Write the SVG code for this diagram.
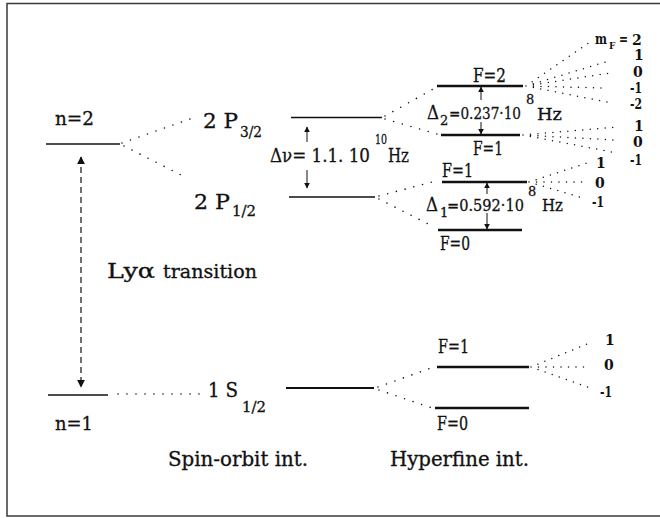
<svg xmlns="http://www.w3.org/2000/svg" width="660" height="518" viewBox="0 0 660 518">
<style>
text{font-family:"DejaVu Serif","Liberation Serif",serif;fill:#111;stroke:#111;stroke-width:0.3}
.l{font-size:20px}
.s{font-size:14px}
.f{font-size:18px}
.m{font-size:14px;font-weight:bold;stroke-width:0}
.lv{stroke:#111;fill:none}
.dot{stroke:#111;stroke-width:1.6;stroke-linecap:round;stroke-dasharray:0 9;fill:none}
.dot2{stroke:#111;stroke-width:1.5;stroke-linecap:round;stroke-dasharray:0 7.5;fill:none}
.arr{stroke:#111;stroke-width:1;fill:none}
</style>
<defs>
<marker id="ah" viewBox="0 0 10 10" refX="9" refY="5" markerWidth="6" markerHeight="6" orient="auto-start-reverse" markerUnits="userSpaceOnUse"><path d="M0,0 L10,5 L0,10 z" fill="#111"/></marker>
<marker id="ahb" viewBox="0 0 10 10" refX="9" refY="5" markerWidth="8" markerHeight="8" orient="auto-start-reverse" markerUnits="userSpaceOnUse"><path d="M0,0 L10,5 L0,10 z" fill="#111"/></marker>
</defs>
<rect x="7" y="3.5" width="660" height="512.5" fill="#fff" stroke="#3a3a3a" stroke-width="1.5"/>
<g id="n2">
<line class="lv" x1="46" y1="144" x2="120" y2="144" stroke-width="1.3"/>
<text class="f" x="55" y="125" textLength="39" lengthAdjust="spacingAndGlyphs">n=2</text>
</g>
<g id="n1">
<line class="lv" x1="48" y1="395" x2="108" y2="395" stroke-width="1.3"/>
<text class="f" x="55" y="430" textLength="38" lengthAdjust="spacingAndGlyphs">n=1</text>
</g>
<g id="p32">
<line class="lv" x1="291" y1="117.5" x2="382" y2="117.5" stroke-width="1.5"/>
<text class="l" x="203" y="128" textLength="35" lengthAdjust="spacingAndGlyphs">2 P</text>
<text class="s" x="240" y="137" textLength="22" lengthAdjust="spacingAndGlyphs">3/2</text>
</g>
<g id="p12">
<line class="lv" x1="289" y1="197" x2="375" y2="197" stroke-width="1.5"/>
<text class="l" x="194" y="209" textLength="36" lengthAdjust="spacingAndGlyphs">2 P</text>
<text class="s" x="232" y="216" textLength="24" lengthAdjust="spacingAndGlyphs">1/2</text>
</g>
<g id="s12">
<line class="lv" x1="286" y1="388" x2="374" y2="388" stroke-width="2"/>
<text class="l" x="208" y="397" textLength="30" lengthAdjust="spacingAndGlyphs">1 S</text>
<text class="s" x="242" y="412" textLength="24" lengthAdjust="spacingAndGlyphs">1/2</text>
</g>
<g id="dnu">
<text x="270" y="162" style="font-size:19px" textLength="100" lengthAdjust="spacingAndGlyphs">Δν= 1.1. 10</text>
<text x="375" y="144" style="font-size:13px" textLength="12" lengthAdjust="spacingAndGlyphs">10</text>
<text x="388" y="162" style="font-size:19px" textLength="21" lengthAdjust="spacingAndGlyphs">Hz</text>
<line class="arr" x1="307" y1="142" x2="307" y2="127" marker-end="url(#ah)"/>
<line class="arr" x1="307" y1="170" x2="307" y2="188" marker-end="url(#ah)"/>
</g>
<g id="p32F2">
<line class="lv" x1="437" y1="86" x2="523" y2="86" stroke-width="2.5"/>
<text class="f" x="473" y="82" textLength="33" lengthAdjust="spacingAndGlyphs">F=2</text>
</g>
<g id="p32F1">
<line class="lv" x1="441" y1="135" x2="520" y2="135" stroke-width="2.5"/>
<text class="f" x="473" y="155" textLength="30" lengthAdjust="spacingAndGlyphs">F=1</text>
</g>
<g id="d2">
<text x="427" y="119" style="font-size:18px" textLength="12" lengthAdjust="spacingAndGlyphs">Δ</text>
<text x="440" y="125" style="font-size:13px">2</text>
<text x="449" y="119" style="font-size:17px" textLength="72" lengthAdjust="spacingAndGlyphs">=0.237·10</text>
<text x="526" y="104" style="font-size:13px">8</text>
<text x="537" y="120" style="font-size:17px" textLength="25" lengthAdjust="spacingAndGlyphs">Hz</text>
<line class="arr" x1="481" y1="100" x2="481" y2="87" marker-end="url(#ah)"/>
<line class="arr" x1="481" y1="122" x2="481" y2="134" marker-end="url(#ah)"/>
</g>
<g id="p12F1">
<line class="lv" x1="442" y1="182" x2="527" y2="182" stroke-width="2.5"/>
<text class="f" x="442" y="177" textLength="31" lengthAdjust="spacingAndGlyphs">F=1</text>
</g>
<g id="p12F0">
<line class="lv" x1="438" y1="230" x2="522" y2="230" stroke-width="2.5"/>
<text class="f" x="440" y="250" textLength="30" lengthAdjust="spacingAndGlyphs">F=0</text>
</g>
<g id="d1">
<text x="426" y="211" style="font-size:18px" textLength="12" lengthAdjust="spacingAndGlyphs">Δ</text>
<text x="440" y="217" style="font-size:13px">1</text>
<text x="447" y="211" style="font-size:17px" textLength="77" lengthAdjust="spacingAndGlyphs">=0.592·10</text>
<text x="528" y="196" style="font-size:13px">8</text>
<text x="542" y="211" style="font-size:17px" textLength="21" lengthAdjust="spacingAndGlyphs">Hz</text>
<line class="arr" x1="487" y1="194" x2="487" y2="183" marker-end="url(#ah)"/>
<line class="arr" x1="487" y1="213" x2="487" y2="229" marker-end="url(#ah)"/>
</g>
<g id="s1F1">
<line class="lv" x1="437" y1="367" x2="529" y2="367" stroke-width="2.5"/>
<text class="f" x="438" y="353" textLength="31" lengthAdjust="spacingAndGlyphs">F=1</text>
</g>
<g id="s1F0">
<line class="lv" x1="435" y1="408" x2="529" y2="408" stroke-width="2.5"/>
<text class="f" x="437" y="430" textLength="31" lengthAdjust="spacingAndGlyphs">F=0</text>
</g>
<g id="mF">
<text class="m" x="595" y="44" textLength="12" lengthAdjust="spacingAndGlyphs">m</text>
<text class="m" x="609" y="49" style="font-size:9px">F</text>
<text class="m" x="619" y="44" textLength="9" lengthAdjust="spacingAndGlyphs">=</text>
<text class="m" x="632" y="45">2</text>
<text class="m" x="634" y="60">1</text>
<text class="m" x="633" y="77">0</text>
<text class="m" x="630" y="93" textLength="12" lengthAdjust="spacingAndGlyphs">-1</text>
<text class="m" x="630" y="109" textLength="12" lengthAdjust="spacingAndGlyphs">-2</text>
<text class="m" x="634" y="131">1</text>
<text class="m" x="633" y="147">0</text>
<text class="m" x="630" y="165" textLength="12" lengthAdjust="spacingAndGlyphs">-1</text>
<text class="m" x="596" y="168">1</text>
<text class="m" x="595" y="188">0</text>
<text class="m" x="592" y="207" textLength="12" lengthAdjust="spacingAndGlyphs">-1</text>
<text class="m" x="605" y="345">1</text>
<text class="m" x="604" y="370">0</text>
<text class="m" x="600" y="397" textLength="12" lengthAdjust="spacingAndGlyphs">-1</text>
</g>
<g id="lya">
<text x="107" y="278" style="font-size:20px" textLength="48" lengthAdjust="spacingAndGlyphs">Lyα</text>
<text x="163" y="278" style="font-size:19px" textLength="94" lengthAdjust="spacingAndGlyphs">transition</text>
</g>
<g id="captions">
<text x="168" y="466" style="font-size:19.5px" textLength="140" lengthAdjust="spacingAndGlyphs">Spin-orbit int.</text>
<text x="390" y="466" style="font-size:19.5px" textLength="139" lengthAdjust="spacingAndGlyphs">Hyperfine int.</text>
</g>
<g id="connectors">
<line x1="81" y1="157" x2="81" y2="387" stroke="#111" stroke-width="1.2" stroke-dasharray="6 4" marker-start="url(#ahb)" marker-end="url(#ahb)"/>
<path class="dot" d="M122,143 L193,118 M124,146 L187,178 M118,394 L202,394"/>
<path class="dot" d="M385,116 L435,88 M385,119 L437,134"/>
<path class="dot" d="M379,196 L436,181 M379,199 L434,227"/>
<path class="dot" d="M378,387 L434,367 M379,390 L432,408"/>
<path class="dot2" d="M526,86 L590,42 M526,86 L612,60 M526,86 L610,73 M526,86 L605,88 M526,86 L607,102"/>
<path class="dot2" d="M523,135 L618,127 M523,135 L614,140 M523,135 L617,153"/>
<path class="dot2" d="M529,182 L587,163 M529,182 L583,182 M529,182 L583,198"/>
<path class="dot2" d="M531,367 L592,342 M531,367 L590,367 M531,367 L590,388"/>
</g>
</svg>
